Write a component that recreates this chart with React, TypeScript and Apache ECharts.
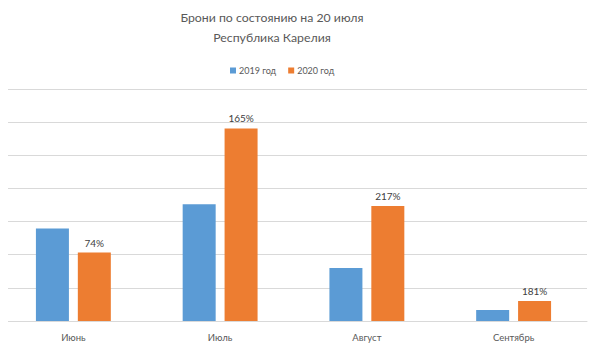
import React, { useEffect, useRef } from "react";
import * as echarts from "echarts";

const categories = ["Июнь", "Июль", "Август", "Сентябрь"];
const series2019 = [2790, 3520, 1600, 335];
const series2020 = [2065, 5810, 3470, 606];
const labels2020 = ["74%", "165%", "217%", "181%"];
const titleLines = ["Брони по состоянию на 20 июля", "Республика Карелия"];
const legendNames = ["2019 год", "2020 год"];

const FONT = "Lato, 'Open Sans', sans-serif";

export default function App() {
  const ref = useRef<HTMLDivElement>(null);
  useEffect(() => {
    if (!ref.current) return;
    const chart = echarts.init(ref.current, undefined, { renderer: "svg" });
    chart.setOption({
      animation: false,
      backgroundColor: "#ffffff",
      textStyle: { fontFamily: FONT },
      graphic: [
        {
          type: "text",
          x: 272,
          y: 17,
          style: {
            text: titleLines[0],
            fontSize: 12.3,
            fontFamily: FONT,
            fill: "#595959",
            textAlign: "center",
            textVerticalAlign: "middle",
          },
        },
        {
          type: "text",
          x: 272,
          y: 37,
          style: {
            text: titleLines[1],
            fontSize: 12.3,
            fontFamily: FONT,
            fill: "#595959",
            textAlign: "center",
            textVerticalAlign: "middle",
          },
        },
      ],
      legend: {
        data: legendNames,
        left: 225,
        top: 61,
        itemWidth: 6,
        itemHeight: 6,
        itemGap: 12,
        icon: "rect",
        textStyle: { fontSize: 9, color: "#595959", fontFamily: FONT, padding: [0, 0, 0, -2] },
      },
      grid: { left: 0, right: 13, top: 89, bottom: 38, containLabel: false },
      xAxis: {
        type: "category",
        data: categories,
        axisLine: { lineStyle: { color: "#d9d9d9" } },
        axisTick: { show: false },
        axisLabel: { fontSize: 9.5, color: "#595959", margin: 11, fontFamily: FONT },
      },
      yAxis: {
        type: "value",
        min: 0,
        max: 7000,
        interval: 1000,
        axisLabel: { show: false },
        axisLine: { show: false },
        axisTick: { show: false },
        splitLine: { lineStyle: { color: "#d9d9d9", width: 1 } },
      },
      series: [
        {
          name: legendNames[0],
          type: "bar",
          data: series2019,
          barWidth: 33,
          barGap: "27%",
          itemStyle: { color: "#5B9BD5" },
        },
        {
          name: legendNames[1],
          type: "bar",
          data: series2020,
          barWidth: 33,
          itemStyle: { color: "#ED7D31" },
          label: {
            show: true,
            position: "top",
            distance: 5,
            fontSize: 10,
            color: "#404040",
            fontFamily: FONT,
            formatter: (p: any) => labels2020[p.dataIndex],
          },
        },
      ],
    });
    return () => chart.dispose();
  }, []);
  return <div ref={ref} style={{ width: 600, height: 359, margin: -8 }} />;
}
